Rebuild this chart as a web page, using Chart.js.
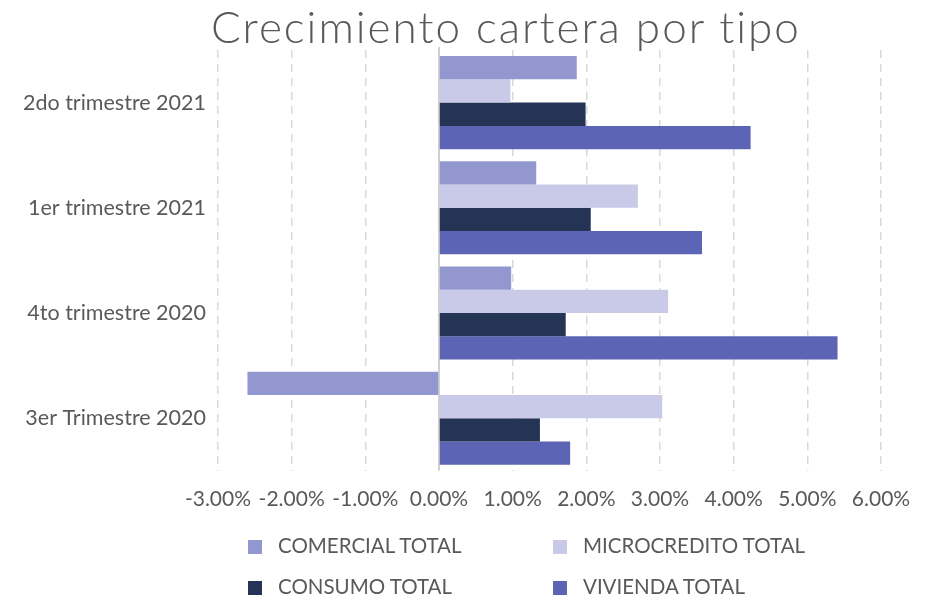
<!DOCTYPE html>
<html>
<head>
<meta charset="utf-8">
<script src="https://cdn.jsdelivr.net/npm/chart.js@4.4.1/dist/chart.umd.min.js"></script>
<style>
  body { margin: 0; background: #fff; }
  #wrap { position: relative; width: 930px; height: 596px; }
  #title {
    position: absolute; left: 0; width: 1012px; top: 1px;
    text-align: center; font-family: Lato, sans-serif; font-weight: 300;
    font-size: 44px; letter-spacing: 2px; color: #595959; line-height: 50px;
  }
  #legend { position: absolute; left: 248px; top: 534px; width: 640px; }
  .item {
    position: absolute; font-family: Lato, sans-serif; font-size: 20.5px;
    color: #595959; white-space: nowrap; line-height: 22px;
  }
  .box { display: inline-block; width: 14px; height: 14px; margin-right: 16px; vertical-align: -1px; }
</style>
</head>
<body>
<div id="wrap">
  <canvas id="chart" width="930" height="596"></canvas>
  <div id="title">Crecimiento cartera por tipo</div>
  <div id="legend"></div>
</div>
<script>
let categorias = ["2do trimestre 2021", "1er trimestre 2021", "4to trimestre 2020", "3er Trimestre 2020"];
let comercial = [1.87, 1.32, 0.98, -2.60];
let microcredito = [0.97, 2.70, 3.11, 3.03];
let consumo = [1.99, 2.06, 1.72, 1.37];
let vivienda = [4.23, 3.57, 5.41, 1.78];

let nombres = ["COMERCIAL TOTAL", "MICROCREDITO TOTAL", "CONSUMO TOTAL", "VIVIENDA TOTAL"];
let colores = ["#9297cf", "#c9cae7", "#253355", "#5c64b5"];
let series = [comercial, microcredito, consumo, vivienda];

let xMin = -3;
let xMax = 6;

// linea vertical en el cero
let zeroLine = {
  id: "zeroLine",
  beforeDatasetsDraw(chart) {
    const ctx = chart.ctx;
    const x = chart.scales.x.getPixelForValue(0);
    ctx.save();
    ctx.strokeStyle = "#d0d0d0";
    ctx.lineWidth = 2;
    ctx.beginPath();
    ctx.moveTo(x, chart.chartArea.top - 3);
    ctx.lineTo(x, chart.chartArea.bottom);
    ctx.stroke();
    ctx.restore();
  },
};

let chart1 = new Chart(document.querySelector("#chart"), {
  type: "bar",
  data: {
    labels: categorias,
    datasets: series.map((values, i) => ({
      label: nombres[i],
      data: values,
      backgroundColor: colores[i],
      borderWidth: 0,
      barPercentage: 1,
      categoryPercentage: 0.885,
    })),
  },
  options: {
    indexAxis: "y",
    responsive: false,
    animation: false,
    layout: { padding: { top: 50, right: 49, bottom: 68, left: 0 } },
    plugins: {
      legend: { display: false },
      title: { display: false },
      tooltip: { enabled: false },
    },
    scales: {
      x: {
        min: xMin,
        max: xMax,
        ticks: {
          stepSize: 1,
          padding: 16,
          color: "#595959",
          font: { family: "Lato", size: 21 },
          callback: (v) => v.toFixed(2) + "%",
        },
        grid: {
          color: (c) => (c.tick.value === 0 ? "rgba(0,0,0,0)" : "#d9d9d9"),
          lineWidth: 1.5,
          drawTicks: false,
        },
        border: { display: false, dash: [8, 6] },
      },
      y: {
        afterFit: (scale) => {
          scale.width = 218;
        },
        ticks: {
          padding: 12,
          color: "#595959",
          font: { family: "Lato", size: 21.5 },
        },
        grid: { display: false, drawTicks: false },
        border: { display: false },
      },
    },
  },
  plugins: [zeroLine],
});

function createLegendItem(name, i) {
  let left = (i % 2) * 305;
  let top = Math.floor(i / 2) * 41;
  return `<div class="item" style="left:${left}px;top:${top}px">
    <span class="box" style="background:${colores[i]}"></span>${name}</div>`;
}

document.querySelector("#legend").innerHTML = nombres.map(createLegendItem).join("");
</script>
</body>
</html>
